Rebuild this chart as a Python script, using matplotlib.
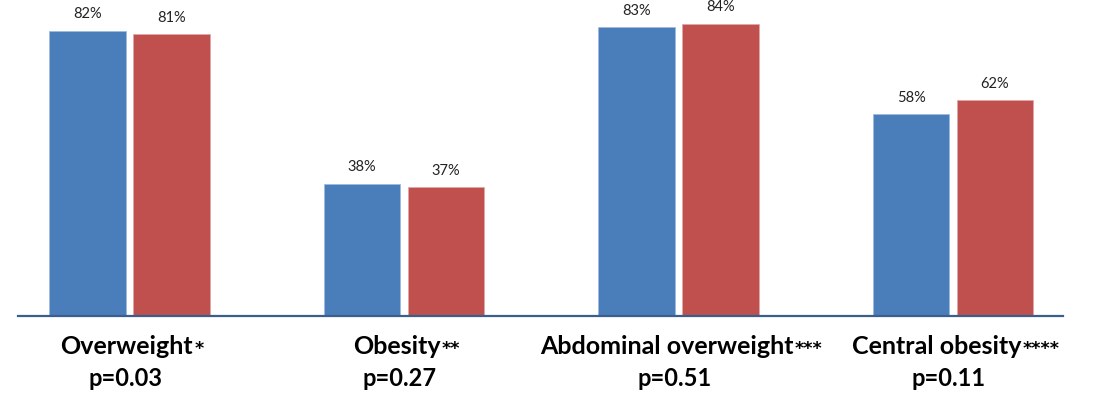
import matplotlib
matplotlib.use('Agg')
import matplotlib.pyplot as plt
import numpy as np
from matplotlib.offsetbox import TextArea, HPacker, AnnotationBbox

plt.rcParams['font.family'] = ['Lato', 'DejaVu Sans']

categories = ['Overweight', 'Obesity', 'Abdominal overweight', 'Central obesity']
stars = ['*', '**', '***', '****']
pvalues = ['p=0.03', 'p=0.27', 'p=0.51', 'p=0.11']
group_a = [82, 38, 83, 58]
group_b = [81, 37, 84, 62]

blue = '#4A7EBB'
red = '#C0504D'

fig = plt.figure(figsize=(10.94, 3.95), dpi=100)
ax = fig.add_axes([18 / 1094, 79 / 395, 1045 / 1094, 316 / 395])

x = np.arange(len(categories))
w = 0.277
off = 0.153
bars_a = ax.bar(x - off, group_a, w, color=blue, edgecolor='#9DB9DC', linewidth=0.5)
bars_b = ax.bar(x + off, group_b, w, color=red, edgecolor='#DFA7A6', linewidth=0.5)

for bars, vals in [(bars_a, group_a), (bars_b, group_b)]:
    for b, v in zip(bars, vals):
        ax.annotate(f'{v}%', (b.get_x() + b.get_width() / 2, v),
                    xytext=(0, 7), textcoords='offset points',
                    ha='center', va='bottom', fontsize=10.5, color='#222222')

ax.set_xlim(-0.4062, 3.4007)
ax.set_ylim(0, 90.9)
for s in ['top', 'left', 'right']:
    ax.spines[s].set_visible(False)
ax.spines['bottom'].set_color('#3A5F8E')
ax.spines['bottom'].set_linewidth(1.6)
ax.set_xticks([])
ax.set_yticks([])

# category names with small asterisks, then p-values underneath
tr = ax.get_xaxis_transform()
for i, (name, st, p) in enumerate(zip(categories, stars, pvalues)):
    main = TextArea(name, textprops=dict(fontsize=18, fontweight='bold', color='black'))
    small = TextArea(st, textprops=dict(fontsize=12.5, fontweight='bold', color='black',
                                        family='DejaVu Sans'))
    box = HPacker(children=[main, small], align='baseline', pad=0, sep=1)
    ab = AnnotationBbox(box, (x[i] + 0.01, -0.095), xycoords=tr, box_alignment=(0.5, 0.5),
                        frameon=False, annotation_clip=False)
    ax.add_artist(ab)
    ax.text(x[i] - 0.015, -0.2215, p, transform=tr, ha='center', va='baseline',
            fontsize=17, fontweight='bold', color='black', clip_on=False)

fig.savefig('out.png', dpi=100)
